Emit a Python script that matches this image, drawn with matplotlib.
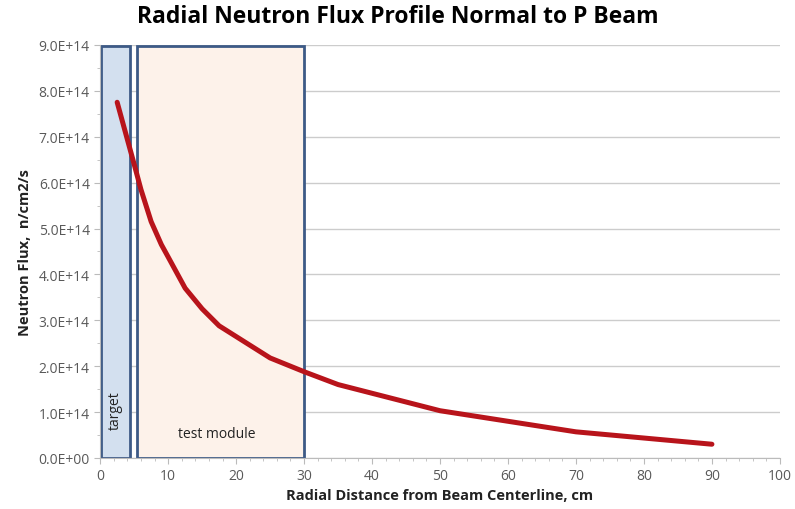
import matplotlib.pyplot as plt
from matplotlib.patches import Rectangle
from matplotlib.ticker import MultipleLocator, FuncFormatter

plt.rcParams['font.family'] = ['Open Sans', 'DejaVu Sans']

# data
radius_cm = [2.5, 5, 6, 7.5, 9, 10, 12.5, 15, 17.5, 25, 30, 35, 50, 70, 90]
flux = [7.75e14, 6.4e14, 5.85e14, 5.15e14, 4.65e14, 4.38e14, 3.7e14, 3.25e14, 2.88e14,
        2.18e14, 1.88e14, 1.6e14, 1.03e14, 0.57e14, 0.3e14]

# regions (cm)
target_span = (0.1, 4.4)
module_span = (5.4, 30.0)
box_top = 8.97e14

fig = plt.figure(figsize=(7.95, 5.1), dpi=100)
ax = fig.add_axes([0.126, 0.1, 0.855, 0.81])

ax.set_xlim(0, 100)
ax.set_ylim(0, 9e14)

ax.add_patch(Rectangle((target_span[0], 0), target_span[1] - target_span[0], box_top,
                       facecolor='#d3e0ef', edgecolor='#3d5a86', linewidth=2, zorder=2))
ax.add_patch(Rectangle((module_span[0], 0), module_span[1] - module_span[0], box_top,
                       facecolor='#fdf2ea', edgecolor='#3d5a86', linewidth=2, zorder=2))

ax.plot(radius_cm, flux, color='#b8141b', linewidth=3.6, solid_capstyle='round',
        solid_joinstyle='round', zorder=4)

ax.text(sum(target_span) / 2, 1.05e14, 'target', rotation=90, ha='center', va='center',
        fontsize=10, color='#222222', zorder=5)
ax.text(17.2, 0.53e14, 'test module', ha='center', va='center', fontsize=10,
        color='#222222', zorder=5)

ax.yaxis.set_major_locator(MultipleLocator(1e14))
ax.yaxis.set_minor_locator(MultipleLocator(0.5e14))
ax.xaxis.set_major_locator(MultipleLocator(10))
ax.xaxis.set_minor_locator(MultipleLocator(2))
ax.yaxis.set_major_formatter(FuncFormatter(lambda v, p: '%.1fE+14' % (v / 1e14) if v > 0 else '0.0E+00'))

ax.grid(axis='y', color='#cccccc', linewidth=1, zorder=1)
ax.set_axisbelow(True)
for s in ['top', 'right']:
    ax.spines[s].set_visible(False)
for s in ['left', 'bottom']:
    ax.spines[s].set_color('#bbbbbb')
ax.tick_params(axis='both', which='major', labelsize=10, labelcolor='#595959', color='#bbbbbb', length=4)
ax.tick_params(axis='both', which='minor', color='#bbbbbb', length=2)

ax.set_xlabel('Radial Distance from Beam Centerline, cm', fontsize=10.5, fontweight='bold', color='#222222', labelpad=3)
ax.set_ylabel('Neutron Flux,  n/cm2/s', fontsize=10.5, fontweight='bold', color='#222222', labelpad=5)
fig.suptitle('Radial Neutron Flux Profile Normal to P Beam', fontsize=16.5, fontweight='bold', x=0.5, y=0.99)

fig.savefig('out.png', dpi=100)
